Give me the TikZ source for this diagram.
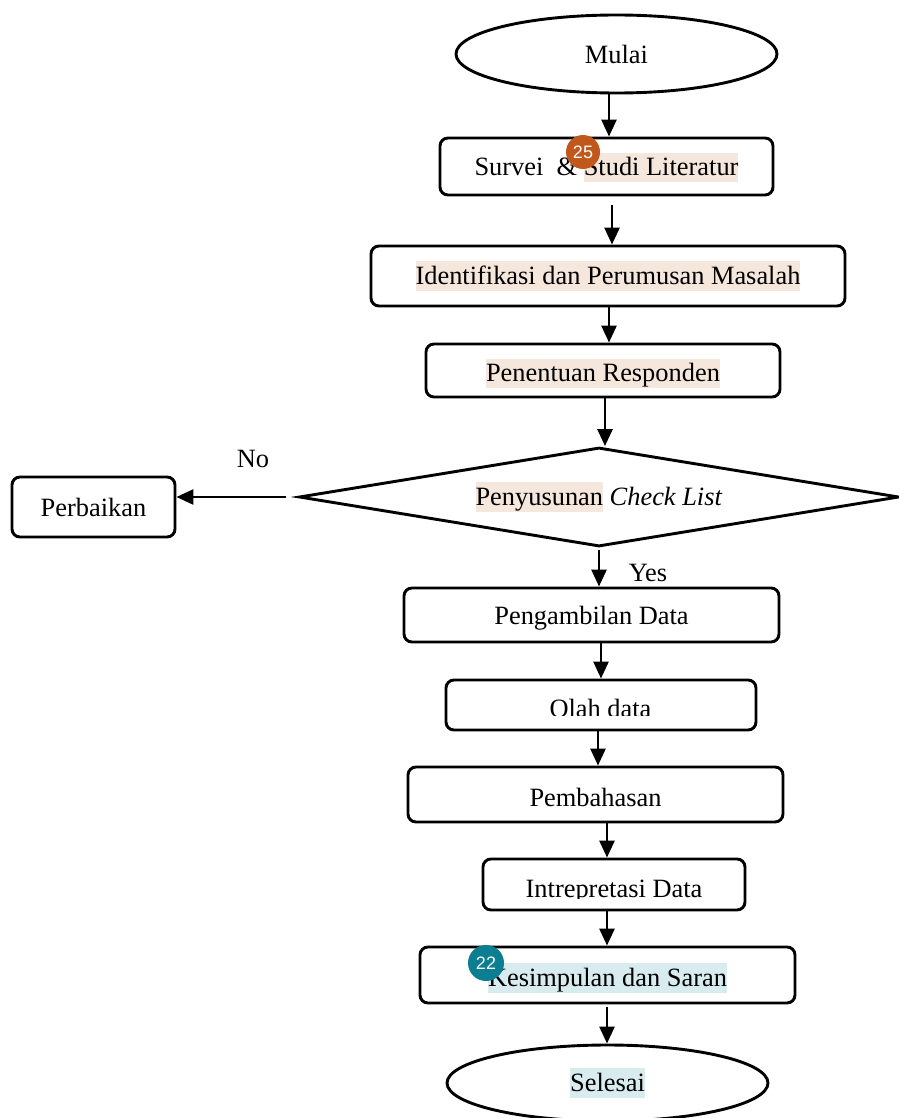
\documentclass[tikz,border=0pt]{standalone}
\usepackage{fontspec}
\setmainfont{Liberation Serif}
\newfontfamily\badgefont{Liberation Sans}
\usetikzlibrary{arrows.meta,shapes.geometric}
\definecolor{peach}{HTML}{F6E7DD}
\definecolor{paleblue}{HTML}{D8ECF0}
\definecolor{badgeorange}{HTML}{C1581B}
\definecolor{badgeteal}{HTML}{0B7E92}
\newcommand\hlpeach[1]{{\setlength{\fboxsep}{0pt}\colorbox{peach}{\rule[-0.24em]{0pt}{1.1em}#1}}}
\newcommand\hlblue[1]{{\setlength{\fboxsep}{0pt}\colorbox{paleblue}{\rule[-0.24em]{0pt}{1.1em}#1}}}
\newcommand\lowtxt[1]{\raisebox{-3pt}[\height][\depth]{#1}}
\begin{document}
\begin{tikzpicture}[x=1pt,y=-1pt,
  font=\fontsize{26.4}{31}\selectfont,
  procbox/.style={draw, line width=2.9pt, rounded corners=8pt, inner sep=0pt},
  termnode/.style={draw, line width=2.9pt, ellipse, inner sep=0pt},
  decnode/.style={draw, line width=2.9pt, diamond, inner sep=0pt},
  arr/.style={line width=2.7pt, -{Triangle[length=17pt,width=15pt]}},
  badge/.style={circle, inner sep=0pt, text=white, font=\badgefont\fontsize{18}{18}\selectfont}]
\useasboundingbox (0,0) rectangle (898,1118);

% nodes
\node[termnode, minimum width=321pt, minimum height=78pt] (mulai) at (616.5,54) {Mulai};
\node[procbox, minimum width=333pt, minimum height=57pt] (survei) at (606.5,166.5) {\raisebox{-1pt}[\height][\depth]{Survei \ \& \hlpeach{Studi Literatur}}};
\node[procbox, minimum width=474pt, minimum height=60pt] (ident) at (608,276) {\hlpeach{Identifikasi dan Perumusan Masalah}};
\node[procbox, minimum width=354pt, minimum height=53pt] (penentuan) at (603,370.5) {\lowtxt{\hlpeach{Penentuan Responden}}};
\node[decnode, minimum width=600pt, minimum height=99pt, aspect=6.06] (cek) at (599,497) {\hlpeach{Penyusunan} \textit{Check List}};
\node[procbox, minimum width=163pt, minimum height=60pt] (perbaikan) at (93.5,507) {Perbaikan};
\node[procbox, minimum width=375pt, minimum height=54pt] (ambil) at (591.5,615) {\lowtxt{Pengambilan Data}};
\node[procbox, minimum width=310pt, minimum height=50pt] (olah) at (601,705) {};
\node[procbox, minimum width=375pt, minimum height=55pt] (bahas) at (595.5,794.5) {\lowtxt{Pembahasan}};
\node[procbox, minimum width=262pt, minimum height=51pt] (intre) at (614,884.5) {};
\node[procbox, minimum width=375pt, minimum height=56pt] (simpul) at (607.5,975) {\lowtxt{\hlblue{Kesimpulan dan Saran}}};
\node[termnode, minimum width=321pt, minimum height=76pt] (selesai) at (607.5,1083) {\hlblue{Selesai}};

% clipped texts
\begin{scope}
  \clip (446,680) rectangle (756,715.5);
  \node[anchor=base, inner sep=0pt] (olahtext) at (600.5,717.5) {Olah data};
\end{scope}
\begin{scope}
  \clip (483,859) rectangle (745,898.5);
  \node[anchor=base, inner sep=0pt] (intretext) at (614,897.5) {Intrepretasi Data};
\end{scope}

% labels
\node (no) at (253,459) {No};
\node (yes) at (648,573) {Yes};

% badges
\node[badge, fill=badgeorange, minimum size=34pt] (b25) at (583,152) {25};
\node[badge, fill=badgeteal, minimum size=36pt] (b22) at (486,963) {22};

% free arrow ends
\coordinate (s1) at (612,205);
\coordinate (d1) at (286,497);
\coordinate (d2) at (599,550);
\coordinate (s2) at (607,1007);

% connectors
\draw[arr] (609,0 |- mulai.south) -- (609,0 |- survei.north);
\draw[arr] (s1) -- (612,0 |- ident.north);
\draw[arr] (609,0 |- ident.south) -- (609,0 |- penentuan.north);
\draw[arr] (605,0 |- penentuan.south) -- (605,0 |- cek.north);
\draw[arr] (d1) -- (d1 -| perbaikan.east);
\draw[arr] (d2) -- (599,0 |- ambil.north);
\draw[arr] (601,0 |- ambil.south) -- (601,0 |- olah.north);
\draw[arr] (598,0 |- olah.south) -- (598,0 |- bahas.north);
\draw[arr] (607,0 |- bahas.south) -- (607,0 |- intre.north);
\draw[arr] (607,0 |- intre.south) -- (607,0 |- simpul.north);
\draw[arr] (s2) -- (607,0 |- selesai.north);
\end{tikzpicture}
\end{document}
